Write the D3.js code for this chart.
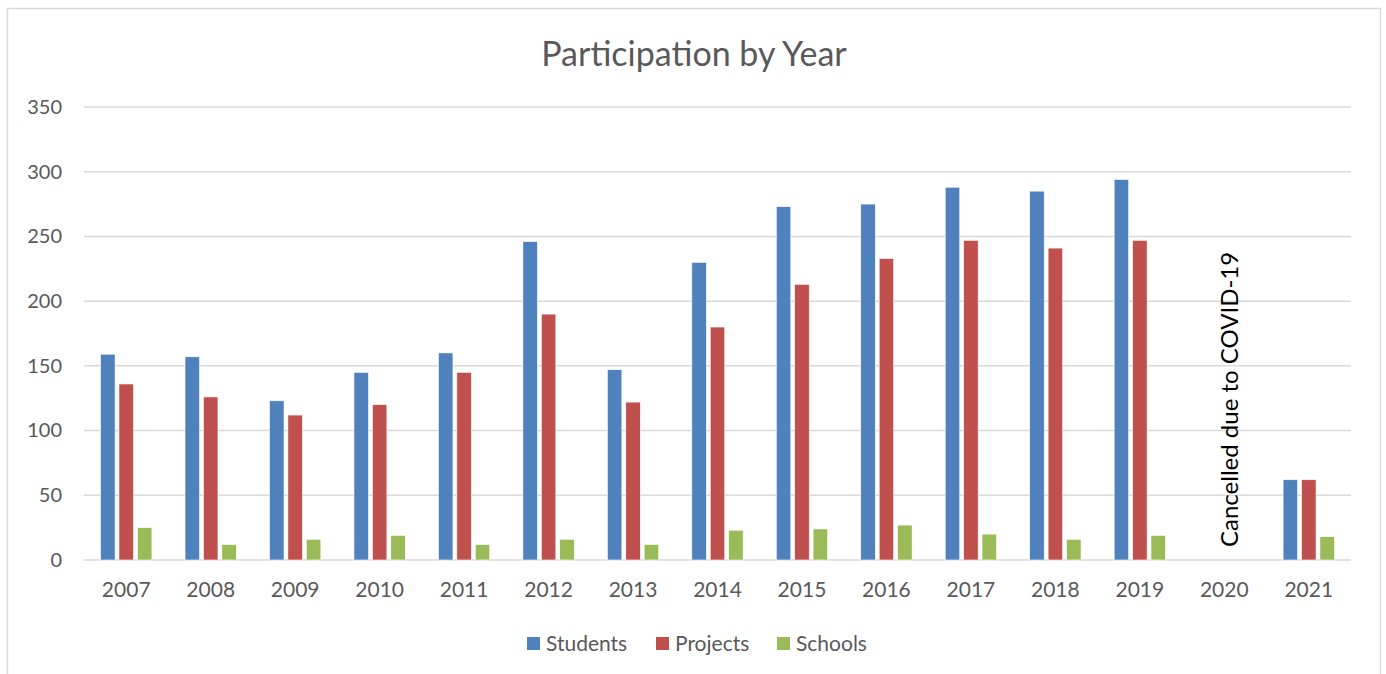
<!DOCTYPE html>
<html><head><meta charset="utf-8">
<script src="https://cdn.jsdelivr.net/npm/d3@7"></script>
<style>html,body{margin:0;padding:0;background:#fff;}svg{display:block;}</style>
</head><body>
<svg id="chart" width="1386" height="674"></svg>
<script>
const years = ["2007","2008","2009","2010","2011","2012","2013","2014","2015","2016","2017","2018","2019","2020","2021"];
const students = [159,157,123,145,160,246,147,230,273,275,288,285,294,null,62];
const projects = [136,126,112,120,145,190,122,180,213,233,247,241,247,null,62];
const schools  = [25,12,16,19,12,16,12,23,24,27,20,16,19,null,18];
const seriesNames = ["Students","Projects","Schools"];
const seriesColors = ["#4f81bd","#c0504d","#9bbb59"];
const yTicks = [0,50,100,150,200,250,300,350];
const title = "Participation by Year";
const note = "Cancelled due to COVID-19";
const noteYear = "2020";

const font = "Lato, 'Open Sans', sans-serif";
const svg = d3.select("#chart");
const m = {left:84, right:1351, top:107, bottom:560};

// outer frame
svg.append("rect").attr("x",7.5).attr("y",8.5).attr("width",1373).attr("height",700)
  .attr("fill","#fff").attr("stroke","#d9d9d9").attr("stroke-width",1.5);

const x = d3.scaleBand().domain(years).range([m.left,m.right]).padding(0);
const y = d3.scaleLinear().domain([0,350]).range([m.bottom,m.top]);

// gridlines
svg.append("g").selectAll("line").data(yTicks).join("line")
  .attr("x1",m.left).attr("x2",m.right)
  .attr("y1",d=>y(d)).attr("y2",d=>y(d))
  .attr("stroke","#d9d9d9").attr("stroke-width",1.5);

// y axis labels
const yAxis = d3.axisLeft(y).tickValues(yTicks).tickSize(0).tickPadding(0);
const gy = svg.append("g").attr("transform",`translate(62,0)`).call(yAxis);
gy.select(".domain").remove();
gy.selectAll("text").attr("font-family",font).attr("font-size",20).attr("fill","#595959");

// x axis labels
const xAxis = d3.axisBottom(x).tickSize(0).tickPadding(0);
const gx = svg.append("g").attr("transform",`translate(0,${m.bottom+22})`).call(xAxis);
gx.select(".domain").remove();
gx.selectAll("text").attr("font-family",font).attr("font-size",21).attr("fill","#595959");

// bars
const data = [students,projects,schools];
const bw = x.bandwidth()*0.172;
const step = x.bandwidth()*0.218;
data.forEach((vals,si)=>{
  svg.append("g").selectAll("rect").data(years.map((yr,i)=>({yr,v:vals[i]})).filter(d=>d.v!=null))
    .join("rect")
    .attr("x",d=>x(d.yr)+x.bandwidth()/2 + (si-1)*step - bw/2)
    .attr("width",bw)
    .attr("y",d=>y(d.v))
    .attr("height",d=>y(0)-y(d.v))
    .attr("fill",seriesColors[si])
    .attr("stroke","#fff").attr("stroke-width",0.6);
});

// title
svg.append("text").attr("x",694).attr("y",66).attr("text-anchor","middle")
  .attr("font-family",font).attr("font-size",34).attr("fill","#595959").text(title);

// covid note
svg.append("text")
  .attr("transform",`translate(${x(noteYear)+x.bandwidth()/2+14},547) rotate(-90)`)
  .attr("font-family",font).attr("font-size",24).attr("fill","#000").text(note);

// legend
const legX = [527,656,777];
const lg = svg.append("g");
seriesNames.forEach((s,i)=>{
  lg.append("rect").attr("x",legX[i]).attr("y",637).attr("width",13).attr("height",13).attr("fill",seriesColors[i]);
  lg.append("text").attr("x",legX[i]+19).attr("y",651).attr("font-family",font).attr("font-size",21)
    .attr("fill","#595959").text(s);
});
</script>
</body></html>
